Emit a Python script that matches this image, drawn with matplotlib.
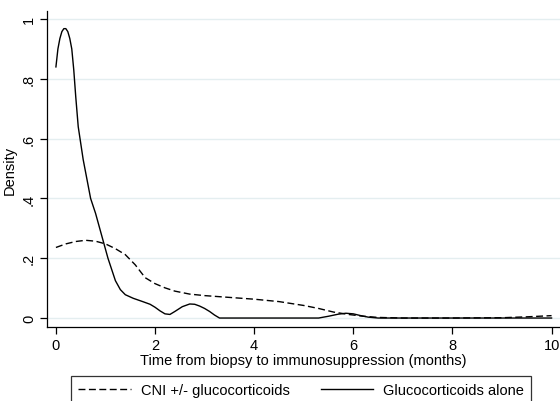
import numpy as np
import matplotlib
matplotlib.use('Agg')
import matplotlib.pyplot as plt

plt.rcParams['font.family'] = ['Liberation Sans', 'DejaVu Sans']

# Glucocorticoids alone (solid)
x_gc = [0.0, 0.04, 0.08, 0.12, 0.16, 0.2, 0.24, 0.28, 0.32, 0.36, 0.4, 0.45, 0.55, 0.7, 0.8, 0.9, 1.05, 1.2, 1.3, 1.4,
        1.56, 1.75, 1.9, 2.0, 2.1, 2.2, 2.3, 2.4, 2.55, 2.7, 2.8, 2.9, 3.0, 3.1, 3.2, 3.3,
        5.3, 5.5, 5.7, 5.85, 6.0, 6.15, 6.3, 6.5, 10.0]
y_gc = [0.84, 0.90, 0.935, 0.958, 0.968, 0.968, 0.958, 0.935, 0.90, 0.83, 0.74, 0.64, 0.53, 0.40, 0.35, 0.29, 0.20, 0.125, 0.095, 0.078,
        0.066, 0.055, 0.046, 0.036, 0.024, 0.014, 0.012, 0.022, 0.038, 0.047, 0.046, 0.040, 0.032, 0.022, 0.010, 0.0,
        0.0, 0.006, 0.013, 0.016, 0.014, 0.008, 0.003, 0.0, 0.0]

# CNI +/- glucocorticoids (dashed)
x_cni = [0.0, 0.2, 0.4, 0.6, 0.8, 1.0, 1.2, 1.4, 1.6, 1.8, 2.0, 2.2, 2.4, 2.7, 3.0, 3.5, 4.0, 4.5,
         5.0, 5.3, 5.6, 5.9, 6.2, 6.5, 7.0, 8.0, 9.0, 9.5, 10.0]
y_cni = [0.236, 0.248, 0.256, 0.260, 0.257, 0.248, 0.232, 0.212, 0.178, 0.135, 0.115, 0.101, 0.09, 0.08, 0.075,
         0.069, 0.063, 0.055, 0.042, 0.032, 0.02, 0.012, 0.006, 0.002, 0.0, 0.0, 0.001, 0.004, 0.008]

yticks = [0, 0.2, 0.4, 0.6, 0.8, 1.0]
ytick_labels = ['0', '.2', '.4', '.6', '.8', '1']
xticks = [0, 2, 4, 6, 8, 10]

W, H = 560, 402
fig = plt.figure(figsize=(5.6, 4.02), dpi=100)
ax = fig.add_axes([47 / W, 1 - 328 / H, (560 - 47) / W, (328 - 12) / H])

l1, = ax.plot(x_cni, y_cni, color='black', lw=1.0, dashes=(5, 2.5), label='CNI +/- glucocorticoids')
l2, = ax.plot(x_gc, y_gc, color='black', lw=1.0, label='Glucocorticoids alone')

ax.set_xlim(-0.18, 10.17)
ax.set_ylim(-0.030, 1.027)
ax.set_yticks(yticks)
ax.set_yticklabels(ytick_labels, rotation=90, va='center')
ax.set_xticks(xticks)
ax.yaxis.grid(True, color='#e4eef0', lw=1.0)
ax.set_axisbelow(True)
for s in ['top', 'right']:
    ax.spines[s].set_visible(False)
for s in ['left', 'bottom']:
    ax.spines[s].set_linewidth(0.9)
ax.tick_params(direction='out', length=5, width=0.9, labelsize=10.5, pad=3)
ax.set_ylabel('Density', fontsize=10.5, labelpad=4)
ax.set_xlabel('Time from biopsy to immunosuppression (months)', fontsize=10.5, labelpad=1)

leg = fig.legend(handles=[l1, l2], ncol=2, loc='upper left',
                 bbox_to_anchor=(71 / W, 1 - 377 / H), fontsize=10.5,
                 frameon=True, fancybox=False, edgecolor='black',
                 handlelength=3.6, handletextpad=0.7, columnspacing=2.1,
                 borderpad=0.5, borderaxespad=0)
leg.get_frame().set_linewidth(0.9)

plt.savefig('out.png', dpi=100)
